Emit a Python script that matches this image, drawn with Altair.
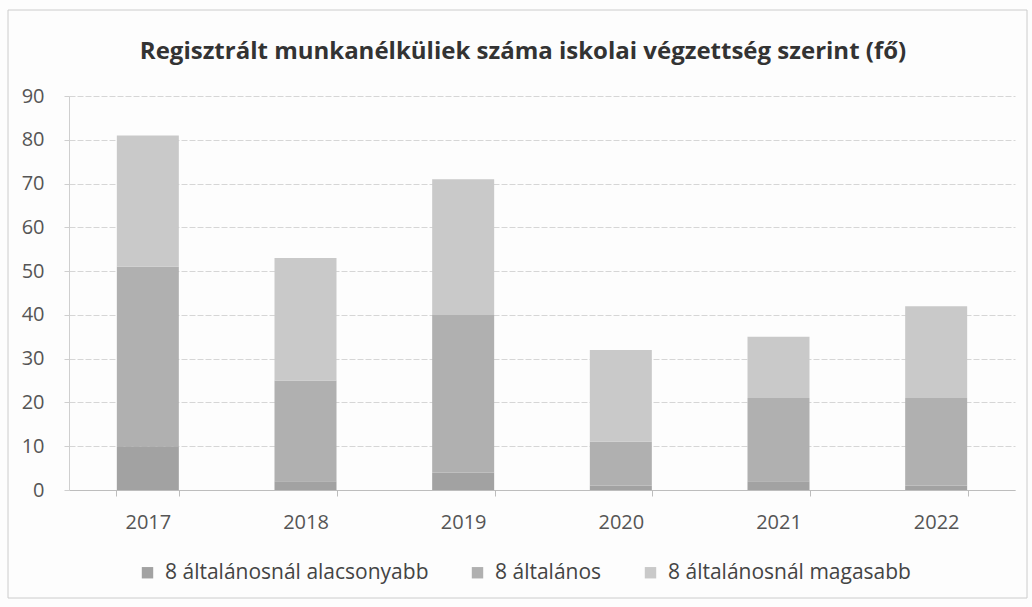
import altair as alt
import pandas as pd

title_text = ["Regisztrált munkanélküliek száma iskolai végzettség szerint (fő)"]
years = ["2017", "2018", "2019", "2020", "2021", "2022"]
categories = ["8 általánosnál alacsonyabb", "8 általános", "8 általánosnál magasabb"]
alacsonyabb = [10, 2, 4, 1, 2, 1]
altalanos = [41, 23, 36, 10, 19, 20]
magasabb = [30, 28, 31, 21, 14, 21]
colors = ["#a2a2a2", "#b0b0b0", "#c9c9c9"]
y_ticks = [0, 10, 20, 30, 40, 50, 60, 70, 80, 90]

rows = []
for series_i, (cat, vals) in enumerate(zip(categories, [alacsonyabb, altalanos, magasabb])):
    for yr, v in zip(years, vals):
        rows.append({"ev": yr, "kategoria": cat, "fo": v, "sorrend": series_i})
df = pd.DataFrame(rows)

FONT = "Open Sans"

bars = alt.Chart(df).mark_bar(size=62).encode(
    x=alt.X("ev:N", sort=years,
            scale=alt.Scale(paddingInner=0.6, paddingOuter=0.3),
            axis=alt.Axis(title=None, labelAngle=0, labelFontSize=20, labelColor="#555555",
                          labelFont=FONT, labelPadding=16, domain=True, domainColor="#bdbdbd",
                          ticks=True, tickColor="#bdbdbd", tickSize=6, tickBand="extent",
                          grid=False)),
    y=alt.Y("fo:Q", stack="zero",
            scale=alt.Scale(domain=[0, 90], nice=False),
            axis=alt.Axis(title=None, values=y_ticks, labelFontSize=20, labelColor="#555555",
                          labelFont=FONT, labelPadding=20, domain=True, domainColor="#cfcfcf",
                          ticks=True, tickColor="#cfcfcf", tickSize=5,
                          grid=True, gridColor="#d6d6d6", gridDash=[6, 2])),
    color=alt.Color("kategoria:N",
                    scale=alt.Scale(domain=categories, range=colors),
                    legend=alt.Legend(title=None, orient="none", direction="horizontal",
                                      legendX=68, legendY=394 + 72, padding=0,
                                      symbolType="square", symbolSize=130,
                                      symbolStrokeWidth=0, labelLimit=500,
                                      labelFontSize=21, labelColor="#444444", labelFont=FONT,
                                      labelOffset=7, columnPadding=38, symbolOffset=0)),
    order=alt.Order("sorrend:Q", sort="ascending"),
)

title = alt.Chart(pd.DataFrame({"t": title_text})).mark_text(
    font=FONT, fontSize=24, fontWeight="bold", color="#333333",
    align="center", baseline="alphabetic",
).encode(
    text="t:N", x=alt.value(454), y=alt.value(-37),
)

frame = alt.Chart(pd.DataFrame({"a": [0]})).mark_rect(
    fill=None, stroke="#cccccc", strokeWidth=1
).encode(
    x=alt.value(-61), x2=alt.value(946 + 12),
    y=alt.value(-86), y2=alt.value(394 + 108),
)

chart = alt.layer(frame, bars, title).properties(
    width=946,
    height=394,
    padding={"left": 69, "top": 96, "right": 17, "bottom": 117},
    autosize=alt.AutoSizeParams(type="none"),
    background="#fdfdfd",
).configure_view(stroke=None)

chart.save("out.html", embed_options={"renderer": "svg", "actions": False})
